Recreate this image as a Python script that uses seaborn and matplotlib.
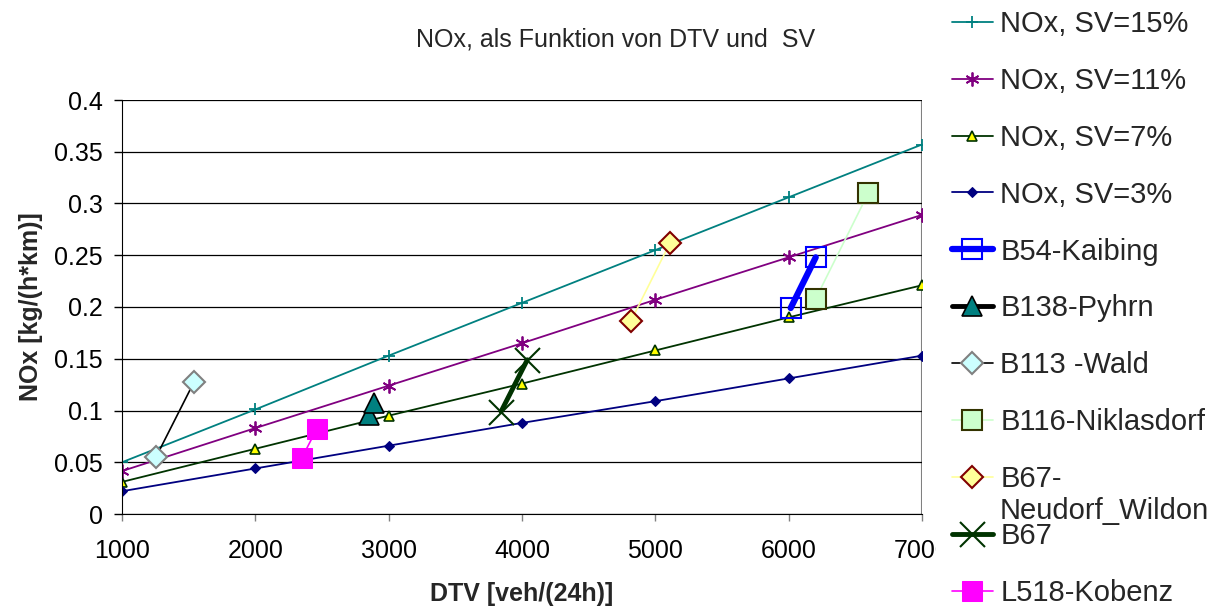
import numpy as np
import pandas as pd
import matplotlib.pyplot as plt
import seaborn as sns

# Data
dtv = [1000, 2000, 3000, 4000, 5000, 6000, 7000]
nox_sv15 = [0.050, 0.101, 0.153, 0.204, 0.255, 0.306, 0.357]
nox_sv11 = [0.0415, 0.083, 0.124, 0.165, 0.207, 0.248, 0.289]
nox_sv7 = [0.031, 0.063, 0.095, 0.126, 0.158, 0.190, 0.221]
nox_sv3 = [0.022, 0.044, 0.066, 0.088, 0.109, 0.131, 0.153]

b54_x = [6015, 6203]
b54_y = [0.199, 0.248]
b138_x = [2855, 2890]
b138_y = [0.096, 0.107]
b113_x = [1255, 1542]
b113_y = [0.055, 0.128]
b116_x = [6203, 6597]
b116_y = [0.208, 0.310]
b67nw_x = [4815, 5110]
b67nw_y = [0.186, 0.262]
b67_x = [3843, 4040]
b67_y = [0.099, 0.149]
l518_x = [2348, 2460]
l518_y = [0.054, 0.082]

sns.set_style("white")
plt.rcParams['font.family'] = ['Liberation Sans', 'DejaVu Sans']

fig = plt.figure(figsize=(12.24, 6.08), dpi=100)
ax = fig.add_axes([122 / 1224, 94 / 608, 800 / 1224, 414 / 608])

# model lines
sns.lineplot(x=dtv, y=nox_sv15, ax=ax, color='#008080', lw=1.3, marker='+',
             markersize=9, markeredgewidth=1.3, markeredgecolor='#008080',
             label='NOx, SV=15%')
sns.lineplot(x=dtv, y=nox_sv11, ax=ax, color='#800080', lw=1.3, marker=(6, 2, 0),
             markersize=10, markeredgewidth=1.3, markeredgecolor='#800080',
             label='NOx, SV=11%')
sns.lineplot(x=dtv, y=nox_sv7, ax=ax, color='#003300', lw=1.3, marker='^',
             markersize=7, markerfacecolor='#FFFF00', markeredgecolor='#003300',
             markeredgewidth=1.2, label='NOx, SV=7%')
sns.lineplot(x=dtv, y=nox_sv3, ax=ax, color='#000080', lw=1.3, marker='D',
             markersize=5, markerfacecolor='#000080', markeredgecolor='#000080',
             label='NOx, SV=3%')

# measurement sites
sns.lineplot(x=b54_x, y=b54_y, ax=ax, sort=False, color='#0000FF', lw=4.5, marker='s',
             markersize=15, markerfacecolor='none', markeredgecolor='#0000FF',
             markeredgewidth=1.5, label='B54-Kaibing')
sns.lineplot(x=b138_x, y=b138_y, ax=ax, sort=False, color='#000000', lw=3.5, marker='^',
             markersize=15, markerfacecolor='#008080', markeredgecolor='#000000',
             markeredgewidth=1.2, label='B138-Pyhrn')
sns.lineplot(x=b113_x, y=b113_y, ax=ax, sort=False, color='#000000', lw=1.2, marker='D',
             markersize=11, markerfacecolor='#CCFFFF', markeredgecolor='#808080',
             markeredgewidth=1.5, label='B113 -Wald')
sns.lineplot(x=b116_x, y=b116_y, ax=ax, sort=False, color='#CCFFCC', lw=1.2, marker='s',
             markersize=14, markerfacecolor='#CCFFCC', markeredgecolor='#333300',
             markeredgewidth=1.5, label='B116-Niklasdorf')
sns.lineplot(x=b67nw_x, y=b67nw_y, ax=ax, sort=False, color='#FFFF99', lw=1.2, marker='D',
             markersize=11, markerfacecolor='#FFFF99', markeredgecolor='#800000',
             markeredgewidth=1.5, label='B67-')
sns.lineplot(x=b67_x, y=b67_y, ax=ax, sort=False, color='#003300', lw=3.5, marker='x',
             markersize=18, markeredgewidth=1.5, markeredgecolor='#003300', label='B67')
sns.lineplot(x=l518_x, y=l518_y, ax=ax, sort=False, color='#FF00FF', lw=1.2, marker='s',
             markersize=14, markerfacecolor='#FF00FF', markeredgecolor='#FF00FF',
             label='L518-Kobenz')

ax.set_xlim(1000, 7000)
ax.set_ylim(0, 0.4)
ax.set_xticks(dtv)
ax.set_yticks(np.arange(0, 0.401, 0.05))
ax.set_yticklabels(['0', '0.05', '0.1', '0.15', '0.2', '0.25', '0.3', '0.35', '0.4'])
ax.yaxis.grid(True, color='#000000', lw=0.9)
ax.set_axisbelow(True)
for side in ['top', 'right']:
    ax.spines[side].set_visible(False)
ax.spines['left'].set_color('#000000')
ax.spines['bottom'].set_color('#000000')
ax.axvline(7000, color='#808080', lw=1.5, zorder=0)
ax.tick_params(axis='both', direction='out', labelsize=18, colors='#000000')
ax.tick_params(axis='x', length=5, width=1, pad=13, color='#808080')
ax.tick_params(axis='y', length=6, width=1, pad=8, color='#000000')
ax.tick_params(left=True, bottom=True)

ax.set_xlabel('DTV [veh/(24h)]', fontsize=18, fontweight='bold', labelpad=14)
ax.set_ylabel('NOx [kg/(h*km)]', fontsize=18, fontweight='bold', labelpad=8)
fig.text(616 / 1224, 1 - 40 / 608, 'NOx, als Funktion von DTV und  SV', fontsize=18,
         ha='center', va='center')

handles, labels = ax.get_legend_handles_labels()
ax.get_legend().remove()
leg = fig.legend(handles, labels, loc='upper left',
                 bbox_to_anchor=(936 / 1224, 1 + 6 / 608),
                 fontsize=21, frameon=True, facecolor='white', edgecolor='none',
                 framealpha=1, borderpad=0.55, labelspacing=0.99, handlelength=1.4,
                 handletextpad=0.25, borderaxespad=0, fancybox=False)
fig.text(1000 / 1224, 1 - 511 / 608, 'Neudorf_Wildon', fontsize=21, ha='left',
         va='center', zorder=10)

fig.savefig('out.png', dpi=100)
